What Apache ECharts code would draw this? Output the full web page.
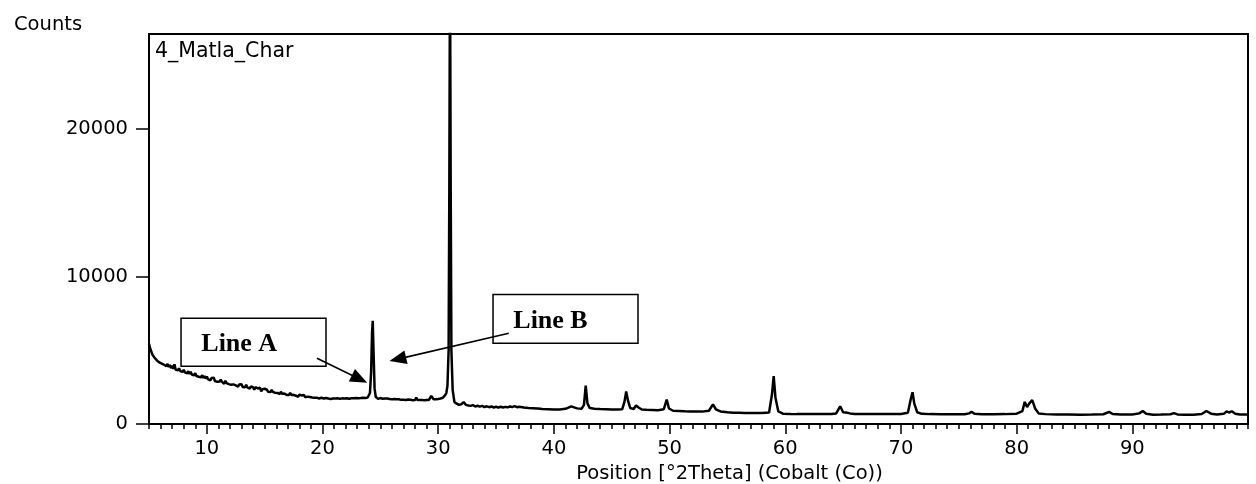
<!DOCTYPE html>
<html>
<head>
<meta charset="utf-8">
<script src="https://cdn.jsdelivr.net/npm/echarts@6/dist/echarts.min.js"></script>
<style>
html,body{margin:0;padding:0;background:#fff;}
#c{width:1256px;height:484px;}
</style>
</head>
<body>
<div id="c"></div>
<script>
// X axis: 2Theta (degrees), Y axis: counts
const xMin = 5, xMax = 100;
const yMin = 0, yMax = 26460;
const xTickLabels = [10, 20, 30, 40, 50, 60, 70, 80, 90];
const yTickLabels = [0, 10000, 20000];

// Scan: [2Theta, Counts]
const scan = [
[5.0,5450],[5.1,5120],[5.2,5050],[5.3,4700],[5.4,4720],[5.5,4480],[5.6,4560],[5.7,4300],[5.8,4390],[5.9,4180],
[6.0,4290],[6.1,4100],[6.2,4230],[6.3,4020],[6.4,4150],[6.5,3930],[6.6,4080],[6.7,3870],[6.8,4010],[6.9,3790],
[7.0,3960],[7.1,3740],[7.2,4050],[7.3,3700],[7.4,3820],[7.5,3640],[7.6,3780],[7.7,3590],[7.8,3720],[7.9,3540],
[8.0,3680],[8.1,3500],[8.2,3620],[8.3,3440],[8.4,3580],[8.5,3400],[8.6,3550],[8.7,3360],[8.8,3490],[8.9,3300],
[9.0,3450],[9.1,3260],[9.2,3390],[9.3,3210],[9.4,3340],[9.5,3170],[9.6,3310],[9.7,3120],[9.8,3260],[9.9,3080],
[10.0,3216],[10.1,3038],[10.2,3116],[10.3,2954],[10.4,3128],[10.5,3014],[10.6,3140],[10.7,2914],[10.8,3024],[10.9,2862],
[11.0,2956],[11.1,2875],[11.2,3018],[11.3,2857],[11.4,2936],[11.5,2727],[11.6,2934],[11.7,2773],[11.8,2836],[11.9,2707],
[12.0,2834],[12.1,2657],[12.2,2752],[12.3,2687],[12.4,2814],[12.5,2621],[12.6,2748],[12.7,2539],[12.8,2682],[12.9,2601],
[13.0,2696],[13.1,2505],[13.2,2602],[13.3,2491],[13.4,2668],[13.5,2477],[13.6,2526],[13.7,2399],[13.8,2544],[13.9,2433],
[14.0,2498],[14.1,2323],[14.2,2500],[14.3,2373],[14.4,2406],[14.5,2311],[14.6,2456],[14.7,2217],[14.8,2362],[14.9,2267],
[15.0,2390],[15.1,2273],[15.2,2323],[15.3,2181],[15.4,2270],[15.5,2166],[15.6,2318],[15.7,2176],[15.8,2226],[15.9,2123],
[16.0,2224],[16.1,2110],[16.2,2149],[16.3,2034],[16.4,2189],[16.5,2049],[16.6,2114],[16.7,2063],[16.8,2115],[16.9,1975],
[17.0,2066],[17.1,1966],[17.2,2110],[17.3,1972],[17.4,2051],[17.5,1977],[17.6,2057],[17.7,1919],[17.8,1998],[17.9,1848],
[18.0,1991],[18.1,1906],[18.2,1937],[18.3,1839],[18.4,1972],[18.5,1810],[18.6,1930],[18.7,1858],[18.8,1978],[18.9,1830],
[19.0,1873],[19.1,1802],[19.2,1923],[19.3,1775],[19.4,1858],[19.5,1787],[19.6,1908],[19.7,1734],[19.8,1855],[19.9,1784],
[20.0,1839],[20.1,1728],[20.2,1813],[20.3,1761],[20.4,1817],[20.5,1726],[20.6,1782],[20.7,1700],[20.8,1825],[20.9,1734],
[21.0,1774],[21.1,1732],[21.2,1816],[21.3,1753],[21.4,1781],[21.5,1718],[21.6,1795],[21.7,1739],[21.8,1767],[21.9,1725],
[22.0,1802],[22.1,1748],[22.2,1792],[22.3,1717],[22.4,1782],[22.5,1749],[22.6,1807],[22.7,1746],[22.8,1825],[22.9,1771],
[23.0,1801],[23.1,1749],[23.2,1795],[23.3,1764],[23.4,1838],[23.5,1786],[23.6,1832],[23.7,1766],[23.8,1826],[23.9,1795],
[24.0,1900],[24.1,2100],[24.2,3500],[24.28,6200],[24.34,7000],[24.4,5200],[24.5,2400],[24.6,1850],[24.7,1760],[24.8,1700],[24.9,1790],
[25.0,1760],[25.1,1684],[25.2,1718],[25.3,1652],[25.4,1726],[25.5,1680],[25.6,1734],[25.7,1638],[25.8,1692],[25.9,1636],
[26.0,1670],[26.1,1636],[26.2,1702],[26.3,1638],[26.4,1674],[26.5,1590],[26.6,1676],[26.7,1612],[26.8,1638],[26.9,1584],
[27.0,1650],[27.1,1577],[27.2,1624],[27.3,1591],[27.4,1658],[27.5,1575],[27.6,1642],[27.7,1549],[27.8,1616],[27.9,1583],
[28.0,1630],[28.1,1800],[28.2,1620],[28.3,1541],[28.4,1622],[28.5,1573],[28.6,1634],[28.7,1565],[28.8,1606],[28.9,1557],
[29.0,1630],[29.1,1570],[29.2,1630],[29.3,1700],[29.4,1900],[29.5,1850],[29.6,1680],[29.7,1740],[29.8,1680],[29.9,1760],
[30.0,1700],[30.1,1790],[30.2,1730],[30.3,1830],[30.4,1780],[30.5,1880],[30.6,1960],
[30.7,2100],[30.8,2600],[30.9,5000],[30.96,16000],[31.02,32000],[31.08,16000],[31.14,5000],[31.25,2300],[31.4,1500],
[31.6,1380],[31.8,1300],[32.0,1340],[32.2,1480],[32.4,1300],[32.6,1260],[32.8,1230],[33.0,1280],[33.2,1190],[33.4,1240],[33.6,1180],[33.8,1230],
[34.0,1150],[34.2,1200],[34.4,1140],[34.6,1190],[34.8,1120],[35.0,1170],[35.2,1110],[35.4,1170],[35.6,1120],[35.8,1160],
[36.0,1130],[36.2,1190],[36.4,1150],[36.6,1210],[36.8,1140],[37.0,1170],[37.4,1120],[37.8,1090],
[38.2,1070],[38.6,1050],[39.0,1020],[39.5,1000],[40.0,980],[40.5,990],[41.0,1030],[41.5,1200],[42.0,1060],[42.4,1040],
[42.6,1300],[42.75,2600],[42.9,1400],[43.1,1080],[43.5,1040],[44.0,1010],[44.5,1000],[45.0,990],[45.5,980],[45.9,1000],
[46.1,1500],[46.25,2200],[46.4,1600],[46.6,1080],[46.9,1020],[47.1,1250],[47.2,1380],[47.35,1100],[47.6,980],[48.0,960],
[48.5,950],[49.0,940],[49.5,1000],[49.75,1650],[49.95,1050],[50.3,900],[50.8,880],[51.3,860],[51.8,850],[52.3,840],
[52.8,840],[53.4,900],[53.75,1330],[54.0,1000],[54.4,850],[55.0,790],[55.5,770],[56.0,760],[56.5,750],[57.0,740],
[57.5,740],[58.0,740],[58.6,780],[58.85,2000],[59.0,3250],[59.15,1800],[59.4,850],[59.8,700],[60.5,680],[61.0,670],
[62.0,670],[63.0,680],[64.0,680],[64.4,720],[64.75,1200],[65.0,800],[65.25,780],[65.4,880],[65.6,720],[66.0,680],
[67.0,670],[68.0,670],[69.0,680],[70.0,680],[70.6,760],[70.85,1700],[71.0,2150],[71.15,1400],[71.4,800],[71.8,690],
[72.5,670],[73.5,660],[74.5,660],[75.5,660],[75.9,720],[76.1,830],[76.35,690],[77.0,660],[78.0,660],[79.0,670],
[80.0,700],[80.5,880],[80.7,1500],[80.9,1150],[81.1,1400],[81.35,1620],[81.6,1050],[81.9,720],[82.5,670],[83.5,650],
[84.5,640],[85.5,630],[86.5,640],[87.5,660],[88.0,820],[88.3,680],[89.0,640],[90.0,650],[90.6,720],[90.9,880],
[91.2,700],[91.8,630],[92.5,640],[93.3,660],[93.6,740],[93.9,650],[94.5,620],[95.3,630],[96.0,680],[96.4,880],
[96.8,700],[97.3,640],[97.9,690],[98.15,860],[98.35,780],[98.6,860],[98.9,700],[99.3,640],[100.0,640]
];

// Annotation boxes: [label, x0, yTop, x1, yBottom] in data units
const boxes = [
  ['Line A', 7.77, 7170, 20.30, 3923],
  ['Line B', 34.74, 8793, 47.27, 5479]
];
// Arrows: [xStart, yStart, xEnd, yEnd] in data units
const arrows = [
  [19.52, 4464, 23.2, 3050],
  [36.1, 6155, 26.5, 4400]
];

const chart = echarts.init(document.getElementById('c'), null, {renderer: 'canvas'});
const axisFont = 'DejaVu Sans';
const black = '#000';
const fs = 19.5;

chart.setOption({
  animation: false,
  backgroundColor: '#fff',
  title: [
    {text: 'Counts', left: 9, top: 10, textStyle: {fontFamily: axisFont, fontSize: fs, fontWeight: 'normal', color: black}},
    {text: '4_Matla_Char', left: 150, top: 36, textStyle: {fontFamily: axisFont, fontSize: 20.5, fontWeight: 'normal', color: black}}
  ],
  grid: {left: 149, right: 8, top: 34, bottom: 60, show: true, borderColor: black, borderWidth: 2, backgroundColor: 'transparent', outerBoundsMode: 'none', containLabel: false},
  xAxis: [
    {
      type: 'value', min: xMin, max: xMax,
      name: 'Position [°2Theta] (Cobalt (Co))',
      nameLocation: 'middle', nameGap: 35,
      nameTextStyle: {fontFamily: axisFont, fontSize: fs, color: black, padding: [0, 0, 0, 62]},
      axisLine: {lineStyle: {color: black, width: 2}},
      axisTick: {customValues: xTickLabels, length: 10, lineStyle: {color: black, width: 1.5}},
      axisLabel: {customValues: xTickLabels, fontFamily: axisFont, fontSize: fs, color: black, margin: 15},
      splitLine: {show: false}
    },
    {
      type: 'value', min: xMin, max: xMax, interval: 1, position: 'bottom',
      axisLine: {show: false},
      axisTick: {length: 5, lineStyle: {color: black, width: 1.5}},
      axisLabel: {show: false},
      splitLine: {show: false}
    }
  ],
  yAxis: {
    type: 'value', min: yMin, max: yMax, interval: 10000,
    axisLine: {show: true, lineStyle: {color: black, width: 2}},
    axisTick: {customValues: yTickLabels, length: 13, lineStyle: {color: black, width: 1.5}},
    axisLabel: {customValues: yTickLabels, formatter: v => String(v), fontFamily: axisFont, fontSize: fs, color: black, margin: 21},
    splitLine: {show: false}
  },
  series: [{
    type: 'line',
    xAxisIndex: 0,
    data: scan,
    showSymbol: false,
    clip: true,
    lineStyle: {color: black, width: 2.5},
    silent: true,
    markArea: {
      silent: true,
      itemStyle: {color: '#fff', borderColor: black, borderWidth: 1.5, opacity: 1},
      label: {show: true, position: 'insideLeft', distance: 21, offset: [0, 2], fontFamily: 'Liberation Serif', fontWeight: 'bold', fontSize: 26, color: black},
      data: boxes.map(b => [{name: b[0], coord: [b[1], b[2]]}, {coord: [b[3], b[4]]}])
    },
    markLine: {
      silent: true,
      symbol: ['none', 'triangle'],
      symbolSize: [14, 17],
      label: {show: false},
      lineStyle: {color: black, width: 1.6, type: 'solid'},
      data: arrows.map(a => [{coord: [a[0], a[1]]}, {coord: [a[2], a[3]]}])
    }
  }]
});
</script>
</body>
</html>
